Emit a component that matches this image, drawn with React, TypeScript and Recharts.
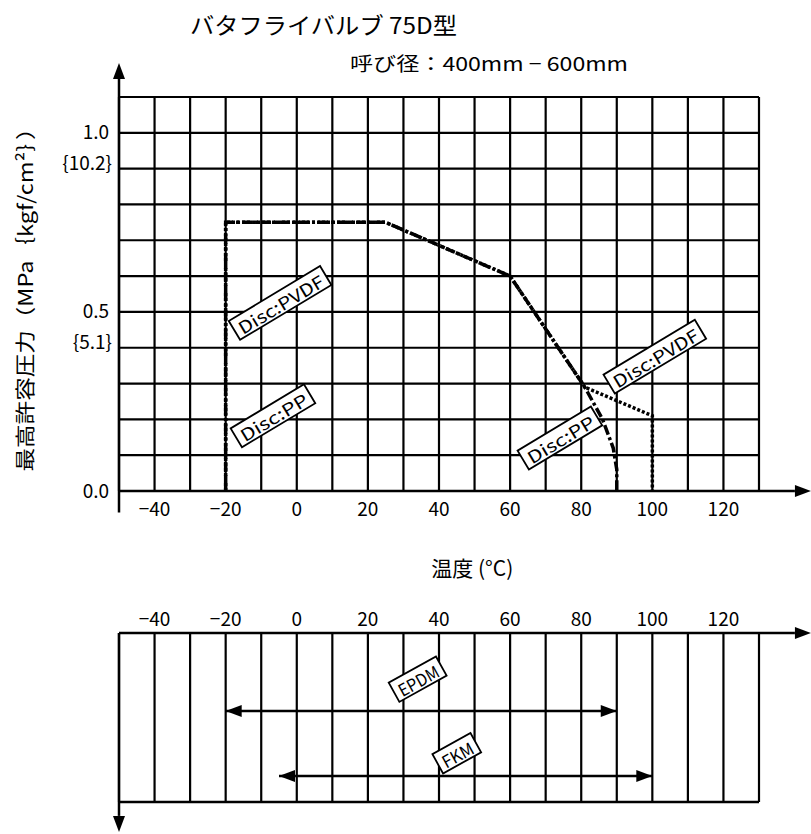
import React from "react";
import {
  LineChart,
  Line,
  XAxis,
  YAxis,
  CartesianGrid,
  ReferenceLine,
  ReferenceDot,
  Label,
} from "recharts";

const FONT = '"Noto Sans CJK JP", "Noto Sans", sans-serif';
const INK = "#000";

// temperature axis (°C), shared by both panels
const tempTicks = [-50, -40, -30, -20, -10, 0, 10, 20, 30, 40, 50, 60, 70, 80, 90, 100, 110, 120, 130];
const tempLabels = [-40, -20, 0, 20, 40, 60, 80, 100, 120];

// pressure axis (MPa)
const pressureTicks = [0, 0.1, 0.2, 0.3, 0.4, 0.5, 0.6, 0.7, 0.8, 0.9, 1.0, 1.1];
const pressureLabels = [0, 0.5, 1.0];
const pressureText = ["0.0", "0.5", "1.0"];
const kgfText = ["", "{5.1}", "{10.2}"];

// max allowable pressure curves
const ppTemp = [-20, -20, 25, 60, 81, 86, 89, 90, 90];
const ppPressure = [0, 0.75, 0.75, 0.6, 0.29, 0.2, 0.12, 0.06, 0];
const pvdfTemp = [-20, -20, 25, 60, 81, 100, 100];
const pvdfPressure = [0, 0.75, 0.75, 0.6, 0.29, 0.21, 0];

const curveLabelText = ["Disc:PVDF", "Disc:PP", "Disc:PVDF", "Disc:PP"];
const curveLabelTemp = [-4.7, -6.7, 100.7, 74];
const curveLabelPressure = [0.525, 0.21, 0.375, 0.148];

// seal material temperature ranges
const sealNames = ["EPDM", "FKM"];
const sealMin = [-20, -5];
const sealMax = [90, 100];
const sealRow = [1.2, 2.2];
const sealLabelTemp = [34, 45];
const sealLabelRow = [0.71, 1.85];

const ppData = ppTemp.map((t, i) => ({ t, p: ppPressure[i] }));
const pvdfData = pvdfTemp.map((t, i) => ({ t, p: pvdfPressure[i] }));

const Arrow = (props: any) => {
  const { x1, y1, x2, y2 } = props;
  const a = Math.atan2(y2 - y1, x2 - x1);
  const len = 16;
  const half = 6;
  const bx = x2 - len * Math.cos(a);
  const by = y2 - len * Math.sin(a);
  const px = -Math.sin(a) * half;
  const py = Math.cos(a) * half;
  return (
    <g>
      <line x1={x1} y1={y1} x2={bx} y2={by} stroke={INK} strokeWidth={2.5} />
      <polygon points={`${x2},${y2} ${bx + px},${by + py} ${bx - px},${by - py}`} fill={INK} />
    </g>
  );
};

const tagShape = (text: string, angle: number) => (props: any) => {
  const { cx, cy } = props;
  const w = text.length * 10.5 + 12;
  return (
    <g transform={`translate(${cx},${cy}) rotate(${angle})`}>
      <rect x={-w / 2} y={-11} width={w} height={22} fill="#fff" stroke={INK} strokeWidth={1.8} />
      <text
        x={0}
        y={1}
        textAnchor="middle"
        dominantBaseline="central"
        fontFamily={FONT}
        fontSize={17}
        fill={INK}
        textLength={w - 10}
        lengthAdjust="spacingAndGlyphs"
      >
        {text}
      </text>
    </g>
  );
};

const TempTick = (props: any) => {
  const { x, y, payload, side } = props;
  if (!tempLabels.includes(payload.value)) return <g />;
  const label = payload.value < 0 ? `\u2212${-payload.value}` : `${payload.value}`;
  return (
    <text
      x={x}
      y={side === "top" ? y - 16 : y + 16}
      textAnchor="middle"
      dominantBaseline="central"
      fontFamily={FONT}
      fontSize={19}
      fill={INK}
    >
      {label}
    </text>
  );
};

const PressureTick = (props: any) => {
  const { x, y, payload } = props;
  const i = pressureLabels.findIndex((v) => Math.abs(v - payload.value) < 1e-6);
  if (i < 0) return <g />;
  return (
    <g>
      <text x={x - 10} y={y - 2} textAnchor="end" dominantBaseline="central" fontFamily={FONT} fontSize={19} fill={INK}>
        {pressureText[i]}
      </text>
      {kgfText[i] && (
        <text x={x - 7} y={y + 29} textAnchor="end" dominantBaseline="central" fontFamily={FONT} fontSize={19} fill={INK}>
          {kgfText[i]}
        </text>
      )}
    </g>
  );
};

const SealEnd = (props: any) => {
  const { cx, cy, index } = props;
  const dir = index === 0 ? -1 : 1;
  return (
    <polygon
      key={`end-${index}`}
      points={`${cx},${cy} ${cx - dir * 16},${cy - 6} ${cx - dir * 16},${cy + 6}`}
      fill={INK}
    />
  );
};

export default function App() {
  return (
    <div style={{ position: "absolute", left: 0, top: 0, width: 811, height: 834, background: "#fff" }}>
      <LineChart width={811} height={600} margin={{ top: 97, right: 52, bottom: 49, left: 19 }}>
        <text x={190} y={24} dominantBaseline="central" fontFamily={FONT} fontSize={23} fill={INK} textLength={267} lengthAdjust="spacingAndGlyphs">
          バタフライバルブ 75D型
        </text>
        <text x={350} y={62} dominantBaseline="central" fontFamily={FONT} fontSize={19} fill={INK} textLength={278} lengthAdjust="spacingAndGlyphs">
          呼び径：400mm − 600mm
        </text>
        <CartesianGrid stroke={INK} strokeWidth={2.2} />
        <XAxis
          type="number"
          dataKey="t"
          domain={[-50, 130]}
          ticks={tempTicks}
          interval={0}
          axisLine={false}
          tickLine={false}
          tickSize={0}
          tickMargin={0}
          height={60}
          tick={<TempTick side="bottom" />}
        >
          <Label
            content={(p: any) => (
              <text
                x={p.viewBox.x + p.viewBox.width * 0.552}
                y={p.viewBox.y + 76}
                textAnchor="middle"
                dominantBaseline="central"
                fontFamily={FONT}
                fontSize={21}
                fill={INK}
              >
                温度 (°C)
              </text>
            )}
          />
        </XAxis>
        <YAxis
          type="number"
          dataKey="p"
          domain={[0, 1.1]}
          ticks={pressureTicks}
          interval={0}
          axisLine={false}
          tickLine={false}
          tickSize={0}
          tickMargin={0}
          width={100}
          tick={<PressureTick />}
        >
          <Label
            content={() => (
              <text
                x={24}
                y={294}
                transform="rotate(-90 24 294)"
                textAnchor="middle"
                dominantBaseline="central"
                fontFamily={FONT}
                fontSize={20}
                fill={INK}
                textLength={355}
                lengthAdjust="spacingAndGlyphs"
              >
                最高許容圧力（MPa｛kgf/cm²｝）
              </text>
            )}
          />
        </YAxis>
        <ReferenceLine segment={[{ x: -50, y: -0.06 }, { x: -50, y: 1.195 }]} ifOverflow="visible" shape={Arrow} />
        <ReferenceLine segment={[{ x: -50, y: 0 }, { x: 144.6, y: 0 }]} ifOverflow="visible" shape={Arrow} />
        <Line
          data={pvdfData}
          dataKey="p"
          type="linear"
          stroke={INK}
          strokeWidth={3.5}
          strokeDasharray="3 2"
          dot={false}
          isAnimationActive={false}
        />
        <Line
          data={ppData}
          dataKey="p"
          type="linear"
          stroke={INK}
          strokeWidth={3.5}
          strokeDasharray="10 3 3 3"
          dot={false}
          isAnimationActive={false}
        />
        {curveLabelText.map((txt, i) => (
          <ReferenceDot
            key={`cl-${i}`}
            x={curveLabelTemp[i]}
            y={curveLabelPressure[i]}
            ifOverflow="visible"
            shape={tagShape(txt, -31)}
          />
        ))}
      </LineChart>

      <div style={{ position: "absolute", left: 0, top: 600 }}>
        <LineChart width={811} height={234} margin={{ top: 3, right: 52, bottom: 32, left: 119 }}>
          <CartesianGrid horizontal={false} stroke={INK} strokeWidth={2.2} />
          <XAxis
            type="number"
            dataKey="t"
            orientation="top"
            domain={[-50, 130]}
            ticks={tempTicks}
            interval={0}
            axisLine={false}
            tickLine={false}
            tickSize={0}
            tickMargin={0}
            height={30}
            tick={<TempTick side="top" />}
          />
          <YAxis type="number" dataKey="row" domain={[0, 2.6]} reversed hide />
          <ReferenceLine
            segment={[{ x: -50, y: 2.6 }, { x: 130, y: 2.6 }]}
            ifOverflow="visible"
            stroke={INK}
            strokeWidth={2.5}
          />
          <ReferenceLine segment={[{ x: -50, y: 0 }, { x: 144.6, y: 0 }]} ifOverflow="visible" shape={Arrow} />
          <ReferenceLine segment={[{ x: -50, y: 0 }, { x: -50, y: 3.06 }]} ifOverflow="visible" shape={Arrow} />
          {sealNames.map((name, i) => (
            <Line
              key={name}
              data={[
                { t: sealMin[i], row: sealRow[i] },
                { t: sealMax[i], row: sealRow[i] },
              ]}
              dataKey="row"
              type="linear"
              stroke={INK}
              strokeWidth={2.5}
              dot={SealEnd}
              isAnimationActive={false}
            />
          ))}
          {sealNames.map((name, i) => (
            <ReferenceDot
              key={`sl-${name}`}
              x={sealLabelTemp[i]}
              y={sealLabelRow[i]}
              ifOverflow="visible"
              shape={tagShape(name, -29)}
            />
          ))}
        </LineChart>
      </div>
    </div>
  );
}
